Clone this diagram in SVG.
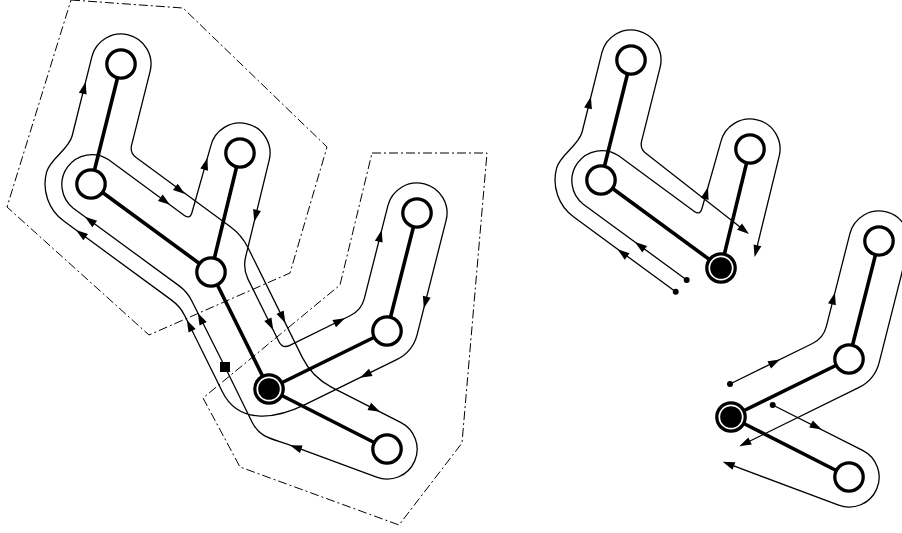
<svg xmlns="http://www.w3.org/2000/svg" xmlns:xlink="http://www.w3.org/1999/xlink" width="902" height="533" viewBox="0 0 902 533">
<style>
.region{fill:none;stroke:#000;stroke-width:1;stroke-dasharray:9 3 2 3}
.edge{stroke:#000;stroke-width:3.6;stroke-linecap:round}
.tour{fill:none;stroke:#000;stroke-width:1.3;stroke-linejoin:round}
.node{fill:#fff;stroke:#000;stroke-width:3.3}
.core{fill:#000}
.ah{fill:#000}
</style>
<defs>
<path id="ah" class="ah" d="M0,0 L-12,-4 L-12,4 Z"/>
<circle id="dot" r="3" fill="#000"/>
</defs>
<rect width="902" height="533" fill="#fff"/>

<g id="regions">
<polygon class="region" points="71,0 183,8 327,147 290,273 149,335 7,207"/>
<polygon class="region" points="372,153 487,153 462,443 399,525 240,467 203,398 340,285"/>
</g>

<g id="tours">
<path class="tour" d="M225 367 L191.7 300.8 Q187.3 291.8 179.2 285.9 L73.3 208.2 A30 30 0 0 1 108.7 159.8 L184.4 215.4 Q190 219.5 191.9 212.8 L210.8 145.9 A30 30 0 0 1 269.2 160.1 L245.6 257 Q242.8 268.6 248.1 279.4 L279 341.7 Q282.6 348.9 289.8 345.4 L350.5 315.5 Q361.3 310.2 364.3 298.6 L387.9 205.6 A30 30 0 0 1 446.1 220.4 L417.2 334.3 Q412.8 351.7 396.6 359.6 L305 404.7 C273.6 420.1 238 423.4 222.5 392 L184.5 315.3 Q180 306.3 171.9 300.4 L63.8 221.1 A46 46 0 0 1 46.6 172.1 C50.2 158.6 68.7 149.6 72.1 136 L91.9 56.7 A30 30 0 0 1 150.1 71.3 L131.6 145.1 Q129.7 152.9 136.1 157.6 L230.4 226.7 Q241.7 235 247.9 247.5 L302.4 357.6 Q312.2 377.3 331.8 387.3 L400.6 422.3 A30 30 0 0 1 376.6 477.2 L292 445.9 C271.4 438.3 260 438.1 252 422 L225 367 Z"/>
<g transform="translate(510,-4)">
<path class="tour" d="M165.7 295.8 L63.8 221.1 A46 46 0 0 1 46.6 172.1 C50.2 158.6 68.7 149.6 72.1 136 L91.9 56.7 A30 30 0 0 1 150.1 71.3 L131.6 145.1 Q129.7 152.9 136.1 157.6 L235.8 235.5"/>
<path class="tour" d="M176.7 284 L73.3 208.2 A30 30 0 0 1 108.7 159.8 L184.4 215.4 Q190 219.5 191.9 212.8 L210.8 145.9 A30 30 0 0 1 269.2 160.1 L245.5 257.1"/>
</g>
<g transform="translate(462,28)">
<path class="tour" d="M268 356 L350.5 315.5 Q361.3 310.2 364.3 298.6 L387.9 205.6 A30 30 0 0 1 446.1 220.4 L417.2 334.3 Q412.8 351.7 396.6 359.6 L280.9 416.5"/>
<path class="tour" d="M310.7 377 L400.6 422.3 A30 30 0 0 1 376.6 477.2 L264.4 435.1"/>
</g>
</g>

<g id="connectors">
<line class="edge" x1="121" y1="64" x2="91" y2="184"/>
<line class="edge" x1="91" y1="184" x2="211" y2="272"/>
<line class="edge" x1="240" y1="153" x2="211" y2="272"/>
<line class="edge" x1="211" y1="272" x2="269" y2="389"/>
<line class="edge" x1="269" y1="389" x2="387" y2="331"/>
<line class="edge" x1="387" y1="331" x2="417" y2="213"/>
<line class="edge" x1="269" y1="389" x2="387" y2="449"/>
<line class="edge" x1="631" y1="60" x2="601" y2="180"/>
<line class="edge" x1="601" y1="180" x2="721" y2="268"/>
<line class="edge" x1="750" y1="149" x2="721" y2="268"/>
<line class="edge" x1="731" y1="417" x2="849" y2="359"/>
<line class="edge" x1="849" y1="359" x2="879" y2="241"/>
<line class="edge" x1="731" y1="417" x2="849" y2="477"/>
</g>

<g id="arrows">
<use xlink:href="#ah" transform="translate(197.8,313) rotate(243.6)"/>
<use xlink:href="#ah" transform="translate(85,216.8) rotate(216.3)"/>
<use xlink:href="#ah" transform="translate(170,204.8) rotate(36.3)"/>
<use xlink:href="#ah" transform="translate(207.4,158) rotate(-74.2)"/>
<use xlink:href="#ah" transform="translate(254.2,221.7) rotate(103.7)"/>
<use xlink:href="#ah" transform="translate(273.2,330) rotate(63.6)"/>
<use xlink:href="#ah" transform="translate(345,318.3) rotate(-26.2)"/>
<use xlink:href="#ah" transform="translate(381.7,230) rotate(-75.7)"/>
<use xlink:href="#ah" transform="translate(423.8,308.3) rotate(104.3)"/>
<use xlink:href="#ah" transform="translate(360,377.7) rotate(153.8)"/>
<use xlink:href="#ah" transform="translate(186.8,320) rotate(243.6)"/>
<use xlink:href="#ah" transform="translate(76,230) rotate(216.3)"/>
<use xlink:href="#ah" transform="translate(85.6,82) rotate(-76)"/>
<use xlink:href="#ah" transform="translate(185,194) rotate(36.3)"/>
<use xlink:href="#ah" transform="translate(285.4,323) rotate(63.6)"/>
<use xlink:href="#ah" transform="translate(380,411.8) rotate(27)"/>
<use xlink:href="#ah" transform="translate(290,445.2) rotate(200.3)"/>
<g transform="translate(510,-4)">
<use xlink:href="#ah" transform="translate(107.5,253.3) rotate(216.3)"/>
<use xlink:href="#ah" transform="translate(125,246.1) rotate(216.3)"/>
<use xlink:href="#ah" transform="translate(80.9,100.7) rotate(-76)"/>
<use xlink:href="#ah" transform="translate(198,191.3) rotate(-74.2)"/>
<use xlink:href="#ah" transform="translate(239,238) rotate(38)"/>
<use xlink:href="#ah" transform="translate(244.6,261) rotate(103.7)"/>
<use xlink:href="#dot" transform="translate(165.7,295.8)"/>
<use xlink:href="#dot" transform="translate(176.7,284)"/>
</g>
<g transform="translate(462,28)">
<use xlink:href="#ah" transform="translate(318,331.5) rotate(-26.2)"/>
<use xlink:href="#ah" transform="translate(372.9,264.7) rotate(-75.7)"/>
<use xlink:href="#ah" transform="translate(277.3,418.3) rotate(153.8)"/>
<use xlink:href="#ah" transform="translate(359.7,401.5) rotate(27)"/>
<use xlink:href="#ah" transform="translate(260.7,433.7) rotate(200.6)"/>
<use xlink:href="#dot" transform="translate(268,356)"/>
<use xlink:href="#dot" transform="translate(310.7,377)"/>
</g>
<rect x="220" y="362" width="10" height="10" fill="#000"/>
</g>

<g id="nA"><circle class="node" cx="121" cy="64" r="14.2"/></g>
<g id="nB"><circle class="node" cx="91" cy="184" r="14.2"/></g>
<g id="nC"><circle class="node" cx="240" cy="153" r="14.2"/></g>
<g id="nD"><circle class="node" cx="211" cy="272" r="14.2"/></g>
<g id="nR"><circle class="node" cx="269" cy="389" r="14.2"/><circle class="core" cx="269" cy="389" r="10.8"/></g>
<g id="nE"><circle class="node" cx="387" cy="331" r="14.2"/></g>
<g id="nF"><circle class="node" cx="417" cy="213" r="14.2"/></g>
<g id="nG"><circle class="node" cx="387" cy="449" r="14.2"/></g>

<g id="tA"><circle class="node" cx="631" cy="60" r="14.2"/></g>
<g id="tB"><circle class="node" cx="601" cy="180" r="14.2"/></g>
<g id="tC"><circle class="node" cx="750" cy="149" r="14.2"/></g>
<g id="tD"><circle class="node" cx="721" cy="268" r="14.2"/><circle class="core" cx="721" cy="268" r="10.8"/></g>

<g id="bR"><circle class="node" cx="731" cy="417" r="14.2"/><circle class="core" cx="731" cy="417" r="10.8"/></g>
<g id="bE"><circle class="node" cx="849" cy="359" r="14.2"/></g>
<g id="bF"><circle class="node" cx="879" cy="241" r="14.2"/></g>
<g id="bG"><circle class="node" cx="849" cy="477" r="14.2"/></g>
</svg>
